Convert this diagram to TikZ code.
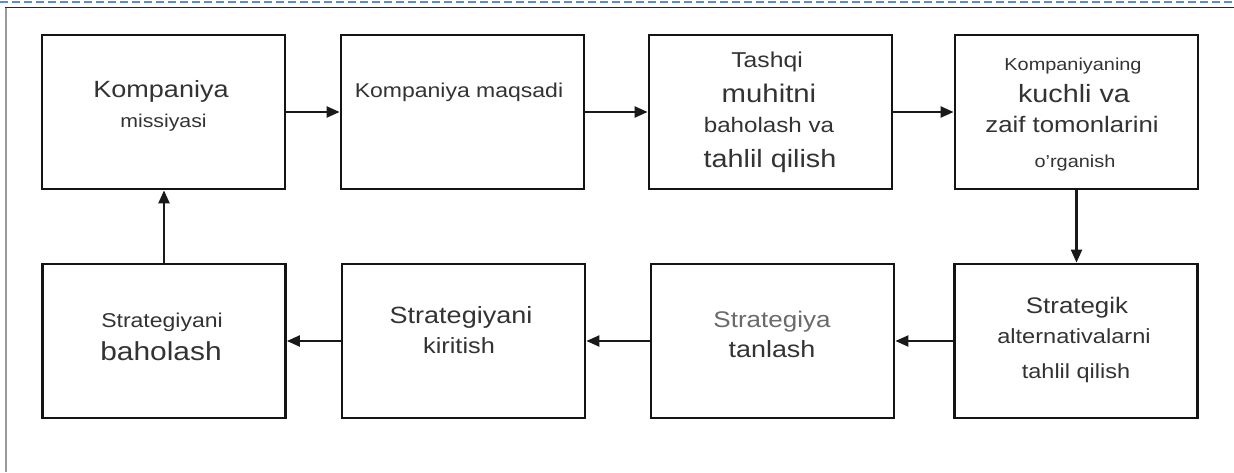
\documentclass[tikz,border=0pt]{standalone}
\usepackage{fontspec}
\setmainfont{Liberation Sans}[FakeStretch=1.15]
\usetikzlibrary{arrows.meta}
\newcommand{\fsz}[1]{\fontsize{#1}{#1}\selectfont}
\definecolor{txtgray}{HTML}{333333}
\definecolor{lightgray}{HTML}{6A6A6A}
\definecolor{dashblue}{HTML}{5B8BD9}
\definecolor{framegray}{HTML}{9A9A9A}
\tikzset{
  boxnode/.style={draw=black!92, line width=2.8pt, minimum width=243pt, minimum height=154pt, inner sep=0pt},
  txt/.style={anchor=base, inner sep=0pt, text=txtgray},
  conn/.style={line width=2.2pt, draw=black!90, -{Triangle[length=13pt,width=11pt]}},
}
\begin{document}
\begin{tikzpicture}[x=1pt,y=-1pt]
\useasboundingbox (0,0) rectangle (1234,472);
\fill[white] (0,0) rectangle (1234,472);
% frame
\draw[dashblue, line width=1.8pt, dash pattern=on 8pt off 4pt] (0,2) -- (1234,2);
\draw[black!85, line width=1pt] (5,7.5) -- (1234,7.5);
\draw[framegray, line width=1.2pt] (6,7.5) -- (6,472);
% boxes top row
\node[boxnode] (b1) at (163.5,112) {};
\node[boxnode] (b2) at (462.5,112) {};
\node[boxnode] (b3) at (770.5,112) {};
\node[boxnode] (b4) at (1076.5,112) {};
% bottom row
\node[boxnode] (b8) at (164,341) {};
\node[boxnode] (b7) at (463.5,341) {};
\node[boxnode] (b6) at (772.5,341) {};
\node[boxnode] (b5) at (1076,341) {};
% texts
\node[txt, font=\fsz{23.5}] (t1a) at (161,97) {Kompaniya};
\node[txt, font=\fsz{18.5}] (t1b) at (163.5,127) {missiyasi};
\node[txt, font=\fsz{20}] (t2a) at (459,97) {Kompaniya maqsadi};
\node[txt, font=\fsz{21.5}] (t3a) at (767,67) {Tashqi};
\node[txt, font=\fsz{25.5}] (t3b) at (769,102) {muhitni};
\node[txt, font=\fsz{21}] (t3c) at (769,132) {baholash va};
\node[txt, font=\fsz{25}] (t3d) at (770,167) {tahlil qilish};
\node[txt, font=\fsz{17.3}] (t4a) at (1073,70) {Kompaniyaning};
\node[txt, font=\fsz{25}] (t4b) at (1074,102) {kuchli va};
\node[txt, font=\fsz{22.4}] (t4c) at (1072,132) {zaif tomonlarini};
\node[txt, font=\fsz{17.3}] (t4d) at (1075,167) {o\char39rganish};
\node[txt, font=\fsz{22.5}] (t5a) at (1077,313) {Strategik};
\node[txt, font=\fsz{20.5}] (t5b) at (1074,343) {alternativalarni};
\node[txt, font=\fsz{20.4}] (t5c) at (1076,378) {tahlil qilish};
\node[txt, font=\fsz{22.6}, text=lightgray] (t6a) at (772,327) {Strategiya};
\node[txt, font=\fsz{23.4}] (t6b) at (772,357) {tanlash};
\node[txt, font=\fsz{23.5}] (t7a) at (461,323) {Strategiyani};
\node[txt, font=\fsz{22}] (t7b) at (459,353) {kiritish};
\node[txt, font=\fsz{20}] (t8a) at (162,327) {Strategiyani};
\node[txt, font=\fsz{26}] (t8b) at (161,360) {baholash};
% connectors
\draw[conn] (b1.east) -- (b2.west);
\draw[conn] (b2.east) -- (b3.west);
\draw[conn] (b3.east) -- (b4.west);
\draw[conn] (b4.south) -- (b4.south |- b5.north);
\draw[conn] (b5.west) -- (b6.east);
\draw[conn] (b6.west) -- (b7.east);
\draw[conn] (b7.west) -- (b8.east);
\draw[conn] (b8.north) -- (b8.north |- b1.south);
\end{tikzpicture}
\end{document}
